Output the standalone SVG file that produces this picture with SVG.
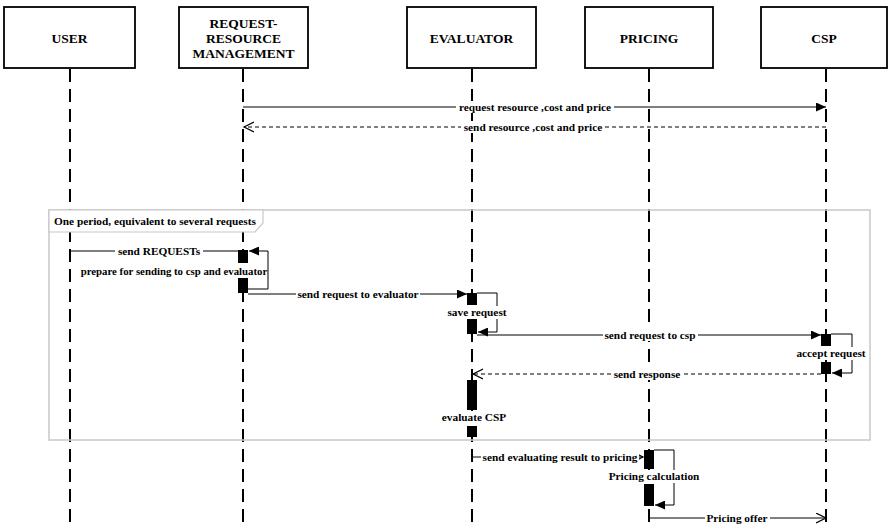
<svg xmlns="http://www.w3.org/2000/svg" width="888" height="529" viewBox="0 0 888 529" font-family="'Liberation Serif', 'Times New Roman', 'DejaVu Serif', serif">
<style>
.box{fill:#fff;stroke:#000;stroke-width:1.8}
.title{font-family:'Liberation Serif', serif;font-weight:bold;font-size:13.5px;text-anchor:middle;fill:#000}
.life{stroke:#000;stroke-width:2;stroke-dasharray:13 7;fill:none}
.msg{stroke:#000;stroke-width:1;fill:none}
.dash{stroke-dasharray:4 3}
.lbl{font-family:'Liberation Serif', serif;font-weight:bold;font-size:11.3px;text-anchor:middle;fill:#000}
.bg{fill:#fff;stroke:none}
.bar{fill:#000}
.frame{fill:none;stroke:#c8c8c8;stroke-width:1.5}
</style>
<defs>
<marker id="fa" markerWidth="10" markerHeight="9" refX="10" refY="4.5" orient="auto" markerUnits="userSpaceOnUse"><path d="M0,0 L10,4.5 L0,9 z" fill="#000"/></marker>
<marker id="oa" markerWidth="12" markerHeight="12" refX="10" refY="5.5" orient="auto" markerUnits="userSpaceOnUse"><path d="M0,0.5 L10,5.5 L0,10.5" fill="none" stroke="#000" stroke-width="1.2"/></marker>
</defs>

<g id="lifelines">
<line class="life" x1="70" y1="69" x2="70" y2="526"/>
<line class="life" x1="243" y1="69" x2="243" y2="526"/>
<line class="life" x1="472" y1="69" x2="472" y2="526"/>
<line class="life" x1="649" y1="69" x2="649" y2="526"/>
<line class="life" x1="826" y1="69" x2="826" y2="526"/>
</g>

<g id="user"><rect class="box" x="4" y="7" width="131" height="61"/><text class="title" x="69.5" y="42.5">USER</text></g>
<g id="rrm"><rect class="box" x="179" y="7" width="129" height="61"/><text class="title" x="243.5" y="27.5">REQUEST-</text><text class="title" x="243.5" y="42.5">RESOURCE</text><text class="title" x="243.5" y="57.5">MANAGEMENT</text></g>
<g id="evaluator"><rect class="box" x="407" y="7" width="129" height="61"/><text class="title" x="471.5" y="42.5">EVALUATOR</text></g>
<g id="pricing"><rect class="box" x="585" y="7" width="128" height="61"/><text class="title" x="649" y="42.5">PRICING</text></g>
<g id="csp"><rect class="box" x="761" y="7" width="126" height="61"/><text class="title" x="824" y="42.5">CSP</text></g>

<g id="frame">
<rect class="frame" x="49" y="210" width="821" height="230"/>
<path d="M49,210 H263 V223 L255,232 H49 Z" fill="#fff" stroke="#c8c8c8" stroke-width="1.2"/>
<text class="lbl" x="54" y="225" style="text-anchor:start">One period, equivalent to several requests</text>
</g>

<g id="connectors">
<line class="msg" x1="243" y1="107" x2="826" y2="107" marker-end="url(#fa)"/>
<line class="msg dash" x1="826" y1="127" x2="244" y2="127" marker-end="url(#oa)"/>
<line class="msg" x1="70" y1="251" x2="238" y2="251"/>
<path class="msg" d="M248,289 H268 V251 H249" marker-end="url(#fa)"/>
<line class="msg" x1="248" y1="294" x2="467" y2="294" marker-end="url(#fa)"/>
<path class="msg" d="M477,293 H497 V332 H478" marker-end="url(#fa)"/>
<line class="msg" x1="477" y1="335" x2="821" y2="335" marker-end="url(#fa)"/>
<path class="msg" d="M831,334 H852 V373 H832" marker-end="url(#fa)"/>
<line class="msg dash" x1="821" y1="374" x2="473" y2="374" marker-end="url(#oa)"/>
<line class="msg" x1="472" y1="457" x2="643" y2="457" marker-end="url(#oa)"/>
<path class="msg" d="M654,450 H674 V505 H655" marker-end="url(#fa)"/>
<line class="msg" x1="649" y1="518" x2="826" y2="518" marker-end="url(#oa)"/>
</g>

<g id="labels">
<rect class="bg" x="456" y="101" width="158" height="12"/><text class="lbl" x="535" y="110.5">request resource ,cost and price</text>
<rect class="bg" x="461" y="121" width="144" height="12"/><text class="lbl" x="533" y="130.5">send resource ,cost and price</text>
<rect class="bg" x="115" y="245" width="88" height="12"/><text class="lbl" x="159" y="254.5">send REQUESTs</text>
<rect class="bg" x="80" y="265" width="186" height="13"/><text class="lbl" x="174" y="275" style="font-size:10.8px">prepare for sending to csp and evaluator</text>
<rect class="bg" x="296" y="288" width="124" height="12"/><text class="lbl" x="358" y="297.5">send request to evaluator</text>
<rect class="bg" x="446" y="306" width="63" height="13"/><text class="lbl" x="477" y="316">save request</text>
<rect class="bg" x="603" y="329" width="95" height="12"/><text class="lbl" x="650" y="338.5">send request to csp</text>
<rect class="bg" x="795" y="347" width="73" height="13"/><text class="lbl" x="831" y="357">accept request</text>
<rect class="bg" x="611" y="368" width="71" height="12"/><text class="lbl" x="647" y="377.5">send response</text>
<rect class="bg" x="440" y="411" width="69" height="14"/><text class="lbl" x="474" y="421">evaluate CSP</text>
<rect class="bg" x="481" y="451" width="158" height="12"/><text class="lbl" x="560" y="460.5">send evaluating result to pricing</text>
<rect class="bg" x="607" y="470" width="94" height="13"/><text class="lbl" x="654" y="480">Pricing calculation</text>
<rect class="bg" x="705" y="512" width="65" height="12"/><text class="lbl" x="737" y="521.5">Pricing offer</text>
</g>

<g id="activations">
<rect class="bar" x="238" y="250" width="10" height="13"/>
<rect class="bar" x="238" y="278" width="10" height="15"/>
<rect class="bar" x="467" y="293" width="10" height="12"/>
<rect class="bar" x="467" y="319" width="10" height="15"/>
<rect class="bar" x="821" y="334" width="10" height="12"/>
<rect class="bar" x="821" y="362" width="10" height="12"/>
<rect class="bar" x="467" y="380" width="10" height="30"/>
<rect class="bar" x="467" y="426" width="10" height="11"/>
<rect class="bar" x="644" y="450" width="10" height="19"/>
<rect class="bar" x="644" y="484" width="10" height="22"/>
</g>
</svg>
